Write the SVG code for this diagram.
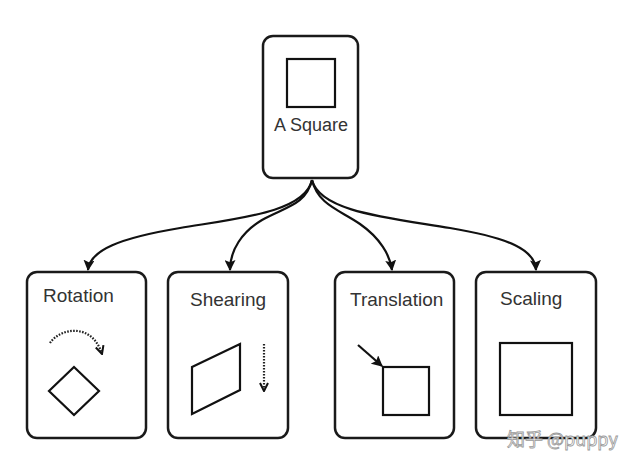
<svg xmlns="http://www.w3.org/2000/svg" width="640" height="469" viewBox="0 0 640 469">
<defs>
<marker id="ah2" viewBox="0 0 10 10" refX="9" refY="5" markerWidth="10" markerHeight="10" orient="auto" markerUnits="userSpaceOnUse">
<path d="M1,1 L9,5 L1,9" fill="none" stroke="#111" stroke-width="2"/>
</marker>
<marker id="ah3" viewBox="0 0 10 10" refX="9" refY="5" markerWidth="11" markerHeight="11" orient="auto" markerUnits="userSpaceOnUse">
<path d="M0,0 L10,5 L0,10 L2,5 Z" fill="#111"/>
</marker>
</defs>
<style>
.box{fill:#fff;stroke:#1a1a1a;stroke-width:2.5}
.shape{fill:none;stroke:#111;stroke-width:2.2}
.lbl{font-family:"Liberation Sans",Arial,sans-serif;font-size:19px;fill:#333}
.conn{fill:none;stroke:#111;stroke-width:2.2}
.dot{fill:none;stroke:#222;stroke-width:2.2;stroke-dasharray:1.6 1.4}
</style>
<rect width="640" height="469" fill="#fff"/>
<g id="connectors">
<path class="conn" d="M312,180 C305,212 240,218 180,228 C120,238 90,250 88,270" marker-end="url(#ah3)"/>
<path class="conn" d="M312,180 C306,205 285,207 262,220 C242,232 230,250 230,270" marker-end="url(#ah3)"/>
<path class="conn" d="M312,180 C318,205 340,210 360,224 C380,238 390,255 392,270" marker-end="url(#ah3)"/>
<path class="conn" d="M312,180 C320,212 390,218 450,228 C510,238 535,250 536,270" marker-end="url(#ah3)"/>
</g>
<g id="square">
<rect class="box" x="263" y="36" width="95" height="142" rx="10"/>
<rect class="shape" x="287" y="59" width="48" height="48"/>
<text class="lbl" x="311" y="131" text-anchor="middle" style="font-size:18px">A Square</text>
</g>
<g id="rotation">
<rect class="box" x="27" y="272" width="119" height="166" rx="10"/>
<text class="lbl" x="43" y="302">Rotation</text>
<path class="dot" d="M50,343 C60,328 92,322 102,354" marker-end="url(#ah2)"/>
<path class="shape" d="M74,367 L99,391 L74,415 L49,391 Z"/>
</g>
<g id="shearing">
<rect class="box" x="168" y="272" width="120" height="166" rx="10"/>
<text class="lbl" x="190" y="306">Shearing</text>
<path class="shape" d="M192,367 L240,344 L240,390 L192,414 Z"/>
<path class="dot" d="M264,344 L264,391" marker-end="url(#ah2)"/>
</g>
<g id="translation">
<rect class="box" x="335" y="272" width="119" height="166" rx="10"/>
<text class="lbl" x="350" y="306">Translation</text>
<path class="conn" d="M358,345 L382,366" marker-end="url(#ah3)"/>
<rect class="shape" x="383" y="367" width="46" height="48"/>
</g>
<g id="scaling">
<rect class="box" x="476" y="272" width="120" height="166" rx="10"/>
<text class="lbl" x="500" y="305">Scaling</text>
<rect class="shape" x="500" y="343" width="72" height="72"/>
</g>
<text x="507" y="446" font-family="'Noto Sans CJK SC','Liberation Sans',sans-serif" font-size="18" fill="#fff" stroke="#999" stroke-width="0.8">知乎 @puppy</text>
</svg>
